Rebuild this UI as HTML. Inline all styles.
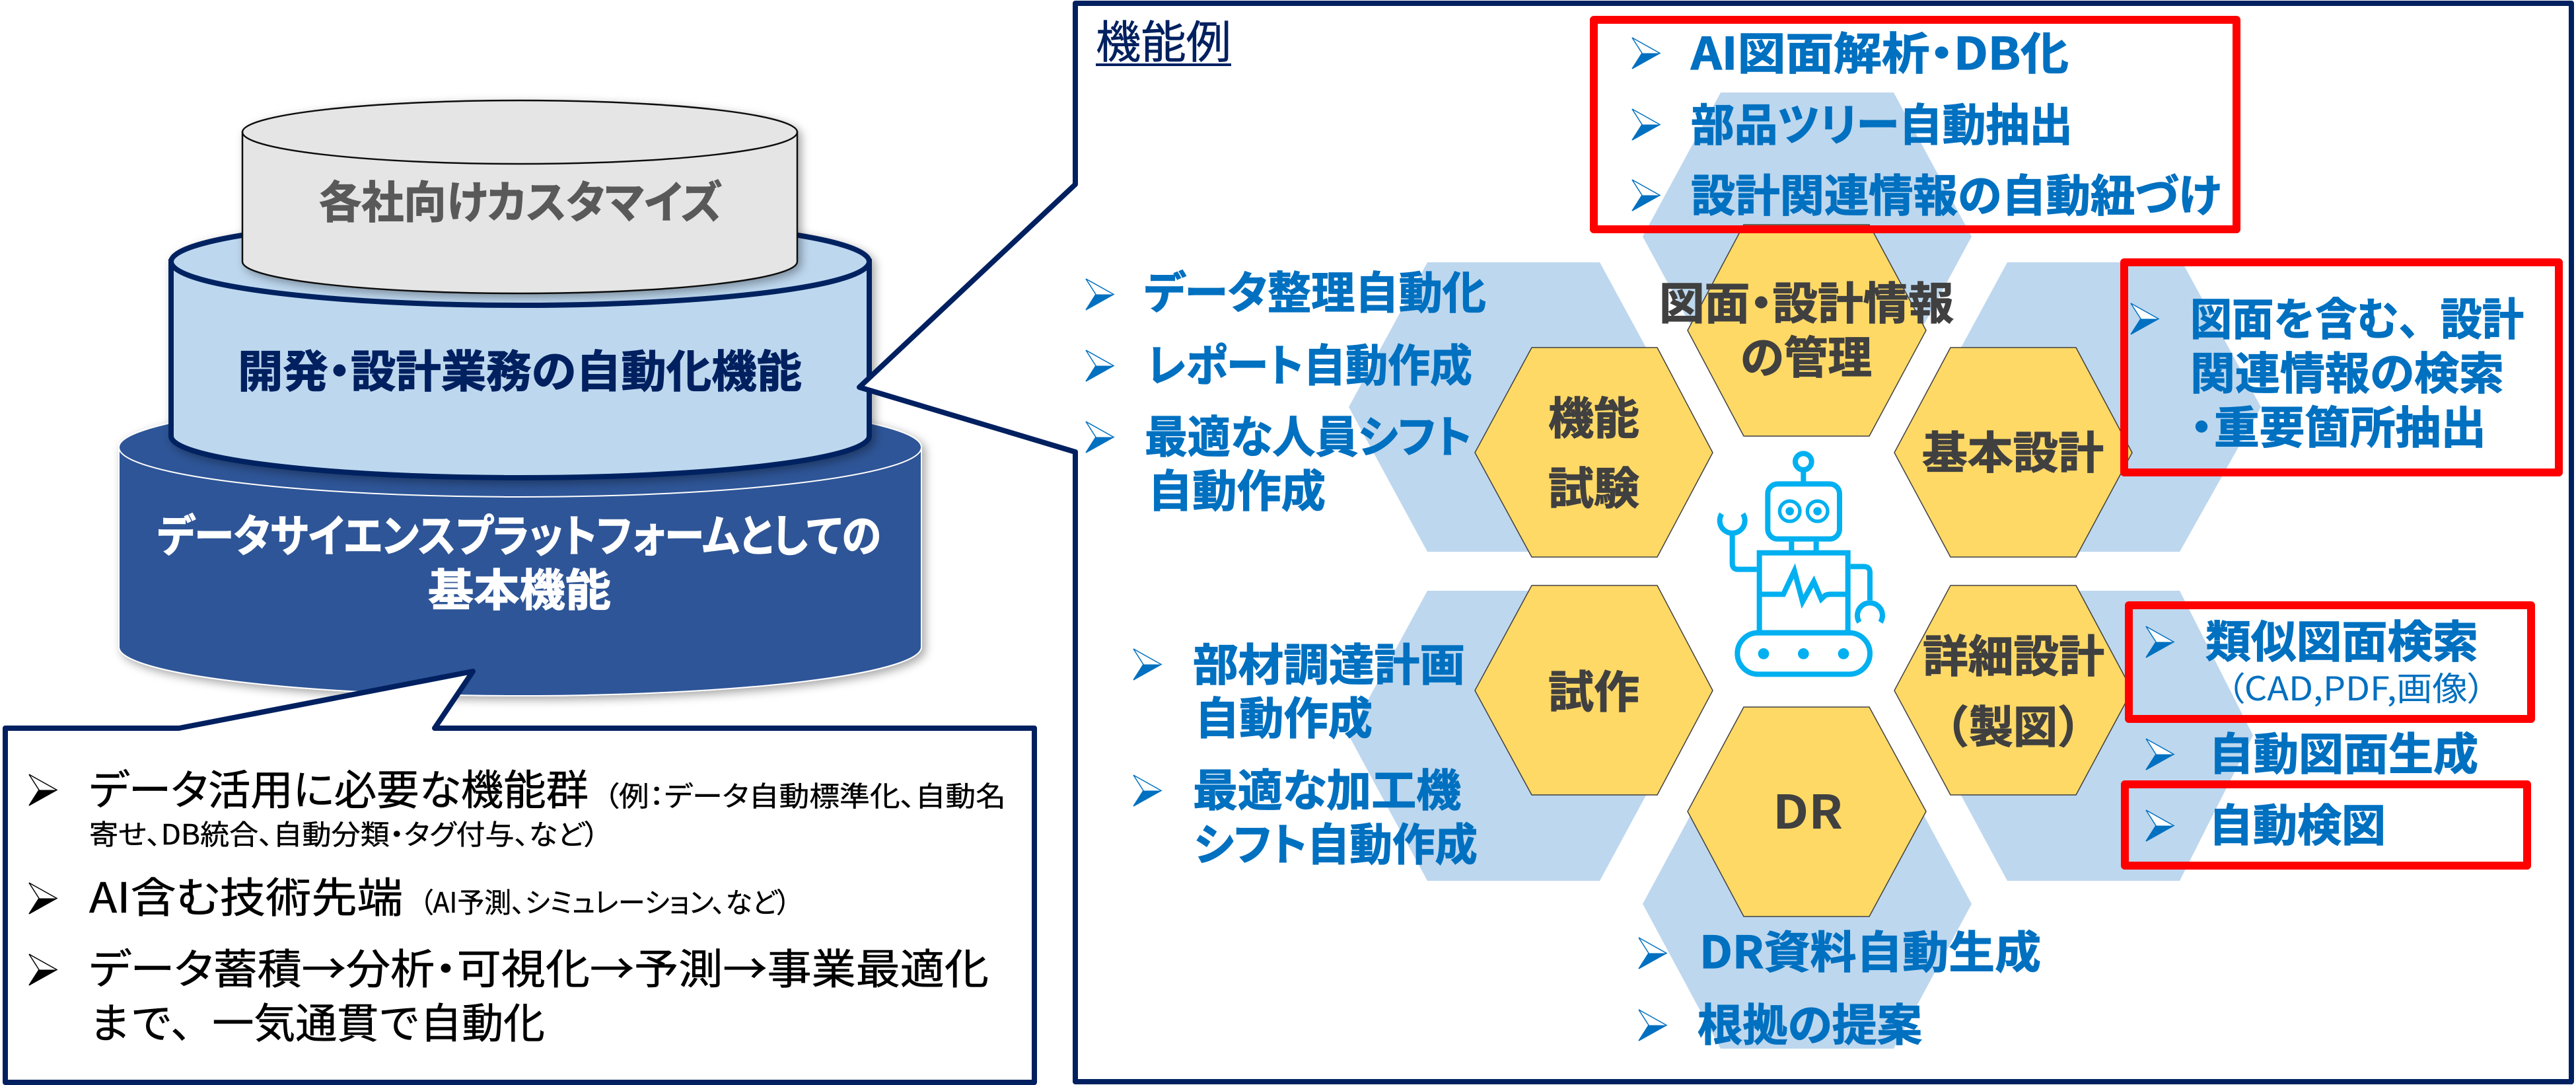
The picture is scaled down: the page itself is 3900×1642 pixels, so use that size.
<!DOCTYPE html>
<html lang="ja">
<head>
<meta charset="utf-8">
<title>機能例</title>
<style>
html,body{margin:0;padding:0;background:#fff;width:3900px;height:1642px;overflow:hidden}
svg{display:block}
text{font-family:"Noto Sans CJK JP","Liberation Sans",sans-serif;font-feature-settings:"palt";white-space:pre}
.np{font-feature-settings:normal}
.b{font-weight:700;font-size:67px;fill:#0070C0;stroke:#0070C0;stroke-width:1.200px}
.h{font-weight:700;font-size:67px;fill:#404040;stroke:#404040;stroke-width:1.200px}
.r{font-weight:400;font-size:63px;fill:#000;stroke:#000;stroke-width:.6px}
.s{font-weight:400;font-size:42px;fill:#000;stroke:#000;stroke-width:.4px}
.c{font-weight:700;font-size:67px;stroke-width:1.200px}
</style>
</head>
<body>
<svg xmlns="http://www.w3.org/2000/svg" width="3900" height="1642" viewBox="0 0 3900 1642">
<defs>
<filter id="sh" x="-5%" y="-5%" width="112%" height="115%"><feDropShadow dx="5" dy="5" stdDeviation="7" flood-color="#000" flood-opacity=".35"/></filter>
<g id="bu"><path d="M0,0L42,23.500L0,47L15,23.500Z" fill="#fff" stroke="currentColor" stroke-width="1.500"/><path d="M15,23.500L42,23.500L0,47Z" fill="currentColor"/></g>
</defs>

<!-- stacked cylinders -->
<g filter="url(#sh)">
<path d="M180,677V979A607.500,74 0 0 0 1395,979V677Z" fill="#2F5597" stroke="#fff" stroke-width="2"/>
<ellipse cx="787.500" cy="677" rx="607.500" ry="75" fill="#2F5597" stroke="#fff" stroke-width="2"/>
</g>
<g filter="url(#sh)">
<path d="M259,396V660A528.500,63 0 0 0 1316,660V396Z" fill="#BDD7EE" stroke="#002060" stroke-width="8"/>
<ellipse cx="787.500" cy="396" rx="528.500" ry="66" fill="#BDD7EE" stroke="#002060" stroke-width="8"/>
</g>
<g filter="url(#sh)">
<path d="M367,200V396A420,48 0 0 0 1207,396V200Z" fill="#E5E5E5" stroke="#111" stroke-width="2.500"/>
<ellipse cx="787" cy="200" rx="420" ry="48" fill="#E5E5E5" stroke="#111" stroke-width="2.500"/>
</g>
<text class="c" x="483" y="330" fill="#595959" stroke="#595959" textLength="610" lengthAdjust="spacingAndGlyphs">各社向けカスタマイズ</text>
<text class="c" x="360" y="586" fill="#002060" stroke="#002060" textLength="854" lengthAdjust="spacingAndGlyphs">開発・設計業務の自動化機能</text>
<text class="c" x="238" y="835" fill="#fff" stroke="#fff" textLength="1096" lengthAdjust="spacingAndGlyphs">データサイエンスプラットフォームとしての</text>
<text class="c" x="648" y="917" fill="#fff" stroke="#fff" textLength="277" lengthAdjust="spacingAndGlyphs">基本機能</text>

<!-- left callout -->
<path d="M8,1102H271L716,1016L658,1102H1566V1638H8Z" fill="#fff" stroke="#002060" stroke-width="8" stroke-linejoin="round"/>
<use href="#bu" x="44" y="1172" color="#000"/>
<use href="#bu" x="44" y="1336" color="#000"/>
<use href="#bu" x="44" y="1444" color="#000"/>
<text class="r" x="135" y="1218" textLength="756" lengthAdjust="spacingAndGlyphs">データ活用に必要な機能群</text>
<text class="s" x="914" y="1220" textLength="609" lengthAdjust="spacingAndGlyphs">（例：データ自動標準化、自動名</text>
<text class="s" x="135" y="1278" textLength="772" lengthAdjust="spacingAndGlyphs">寄せ、DB統合、自動分類・タグ付与、など）</text>
<text class="r" x="135" y="1381" textLength="475" lengthAdjust="spacingAndGlyphs">AI含む技術先端</text>
<text class="s" x="635" y="1381" textLength="562" lengthAdjust="spacingAndGlyphs">（AI予測、シミュレーション、など）</text>
<text class="r" x="135" y="1489" textLength="1362" lengthAdjust="spacingAndGlyphs">データ蓄積→分析・可視化→予測→事業最適化</text>
<text class="r np" x="135" y="1571" textLength="690" lengthAdjust="spacingAndGlyphs">まで、一気通貫で自動化</text>

<!-- right callout -->
<path d="M1628,5H3893V1637H1628V684L1301,586L1628,279Z" fill="#fff" stroke="#002060" stroke-width="8" stroke-linejoin="round"/>
<text x="1659" y="88" font-size="68" fill="#002060" stroke="#002060" stroke-width=".6" textLength="205" lengthAdjust="spacingAndGlyphs">機能例</text>
<rect x="1659" y="96" width="205" height="4" fill="#002060"/>

<!-- light hexagons -->
<g fill="#BDD7EE">
<polygon points="2605,140 2867,140 2985,358 2867,576 2605,576 2487,358"/>
<polygon points="2161,397 2422,397 2541,616 2422,835 2161,835 2042,616"/>
<polygon points="3039,397 3304,397 3423,616 3300,835 3039,835 2920,616"/>
<polygon points="2161,894 2422,894 2541,1113 2422,1333 2161,1333 2042,1113"/>
<polygon points="3039,894 3300,894 3411,1113 3300,1333 3039,1333 2920,1113"/>
<polygon points="2605,1149 2867,1149 2985,1368 2867,1587 2605,1587 2487,1368"/>
</g>
<!-- yellow hexagons -->
<g fill="#FFD966" stroke="#404040" stroke-width="1.500">
<polygon points="2640,340 2830,340 2916,500 2830,660 2640,660 2555,500"/>
<polygon points="2319,526 2509,526 2593,685 2509,843 2319,843 2233,685"/>
<polygon points="2953,526 3143,526 3228,685 3143,843 2953,843 2868,685"/>
<polygon points="2319,886 2509,886 2593,1045 2509,1203 2319,1203 2233,1045"/>
<polygon points="2953,886 3143,886 3228,1045 3143,1203 2953,1203 2868,1045"/>
<polygon points="2640,1070 2830,1070 2916,1228 2830,1387 2640,1387 2555,1228"/>
</g>

<!-- robot -->
<g transform="translate(2550,660) scale(.33333)" fill="none" stroke="#00B0F0" stroke-width="24">
<circle cx="541" cy="116" r="37"/>
<path d="M541,160V215"/>
<rect x="379" y="217" width="326" height="250" rx="45"/>
<circle cx="479" cy="341" r="46" stroke-width="16"/>
<circle cx="605" cy="341" r="46" stroke-width="16"/>
<circle cx="479" cy="341" r="19" fill="#00B0F0" stroke="none"/>
<circle cx="605" cy="341" r="19" fill="#00B0F0" stroke="none"/>
<path d="M487,479V530M599,479V530"/>
<rect x="341" y="530" width="402" height="363"/>
<path d="M341,718H450L500,612L537,752L588,660L622,740L640,723Q650,718 665,718H743" stroke-miterlimit="8"/>
<rect x="241" y="893" width="602" height="188" rx="94"/>
<circle cx="360" cy="988" r="25" fill="#00B0F0" stroke="none"/>
<circle cx="541" cy="988" r="25" fill="#00B0F0" stroke="none"/>
<circle cx="723" cy="988" r="25" fill="#00B0F0" stroke="none"/>
<path d="M329,605H245Q218,605 218,578V445"/>
<path d="M170,353A57,57 0 1 0 266,353"/>
<path d="M755,592H815Q843,592 843,620V745"/>
<path d="M795,845A57,57 0 1 1 891,845"/>
</g>

<!-- red boxes -->
<g fill="none" stroke="#FF0000" stroke-width="12" stroke-linejoin="round">
<rect x="2413" y="30" width="973" height="317"/>
<rect x="3216" y="397" width="658" height="318"/>
<rect x="3223" y="916" width="609" height="172"/>
<rect x="3217" y="1187" width="609" height="123"/>
</g>

<!-- hexagon labels -->
<text class="h" x="2512" y="483" textLength="446" lengthAdjust="spacingAndGlyphs">図面・設計情報</text>
<text class="h" x="2635" y="565" textLength="199" lengthAdjust="spacingAndGlyphs">の管理</text>
<text class="h" x="2344" y="657" textLength="138" lengthAdjust="spacingAndGlyphs">機能</text>
<text class="h" x="2344" y="763" textLength="138" lengthAdjust="spacingAndGlyphs">試験</text>
<text class="h" x="2910" y="709" textLength="275" lengthAdjust="spacingAndGlyphs">基本設計</text>
<text class="h" x="2344" y="1071" textLength="138" lengthAdjust="spacingAndGlyphs">試作</text>
<text class="h" x="2911" y="1017" textLength="275" lengthAdjust="spacingAndGlyphs">詳細設計</text>
<text class="h np" x="3048" y="1124" text-anchor="middle">（製図）</text>
<text x="2684" y="1254" font-size="70" font-weight="700" fill="#404040" textLength="106" lengthAdjust="spacingAndGlyphs">DR</text>

<!-- blue bullets -->
<g color="#0070C0">
<use href="#bu" x="2471" y="57"/>
<use href="#bu" x="2471" y="165"/>
<use href="#bu" x="2471" y="272"/>
<use href="#bu" x="1644" y="422"/>
<use href="#bu" x="1644" y="530"/>
<use href="#bu" x="1644" y="638"/>
<use href="#bu" x="3226" y="459"/>
<use href="#bu" x="1716" y="982"/>
<use href="#bu" x="1716" y="1173"/>
<use href="#bu" x="3249" y="948"/>
<use href="#bu" x="3249" y="1118"/>
<use href="#bu" x="3249" y="1226"/>
<use href="#bu" x="2481" y="1419"/>
<use href="#bu" x="2481" y="1528"/>
</g>

<!-- blue text -->
<text class="b" x="2560" y="105" textLength="572" lengthAdjust="spacingAndGlyphs">AI図面解析・DB化</text>
<text class="b" x="2560" y="213" textLength="578" lengthAdjust="spacingAndGlyphs">部品ツリー自動抽出</text>
<text class="b" x="2560" y="320" textLength="802" lengthAdjust="spacingAndGlyphs">設計関連情報の自動紐づけ</text>
<text class="b" x="1732" y="467" textLength="518" lengthAdjust="spacingAndGlyphs">データ整理自動化</text>
<text class="b" x="1736" y="577" textLength="493" lengthAdjust="spacingAndGlyphs">レポート自動作成</text>
<text class="b" x="1733" y="685" textLength="495" lengthAdjust="spacingAndGlyphs">最適な人員シフト</text>
<text class="b" x="1738" y="767" textLength="269" lengthAdjust="spacingAndGlyphs">自動作成</text>
<text class="b" x="1806" y="1030" textLength="412" lengthAdjust="spacingAndGlyphs">部材調達計画</text>
<text class="b" x="1809" y="1111" textLength="269" lengthAdjust="spacingAndGlyphs">自動作成</text>
<text class="b" x="1806" y="1220" textLength="406" lengthAdjust="spacingAndGlyphs">最適な加工機</text>
<text class="b" x="1808" y="1302" textLength="429" lengthAdjust="spacingAndGlyphs">シフト自動作成</text>
<text class="b" x="2573" y="1465" textLength="517" lengthAdjust="spacingAndGlyphs">DR資料自動生成</text>
<text class="b" x="2570" y="1575" textLength="340" lengthAdjust="spacingAndGlyphs">根拠の提案</text>
<text class="b np" x="3316" y="507" textLength="505" lengthAdjust="spacingAndGlyphs">図面を含む、設計</text>
<text class="b" x="3316" y="589" textLength="475" lengthAdjust="spacingAndGlyphs">関連情報の検索</text>
<text class="b" x="3333" y="671" text-anchor="middle">・</text>
<text class="b" x="3352" y="671" textLength="412" lengthAdjust="spacingAndGlyphs">重要箇所抽出</text>
<text class="b" x="3339" y="995" textLength="413" lengthAdjust="spacingAndGlyphs">類似図面検索</text>
<text x="3371" y="1060" font-size="50" fill="#0070C0" textLength="392" lengthAdjust="spacingAndGlyphs">（CAD,PDF,画像）</text>
<text class="b" x="3344" y="1165" textLength="408" lengthAdjust="spacingAndGlyphs">自動図面生成</text>
<text class="b" x="3344" y="1273" textLength="268" lengthAdjust="spacingAndGlyphs">自動検図</text>
</svg>
</body>
</html>
